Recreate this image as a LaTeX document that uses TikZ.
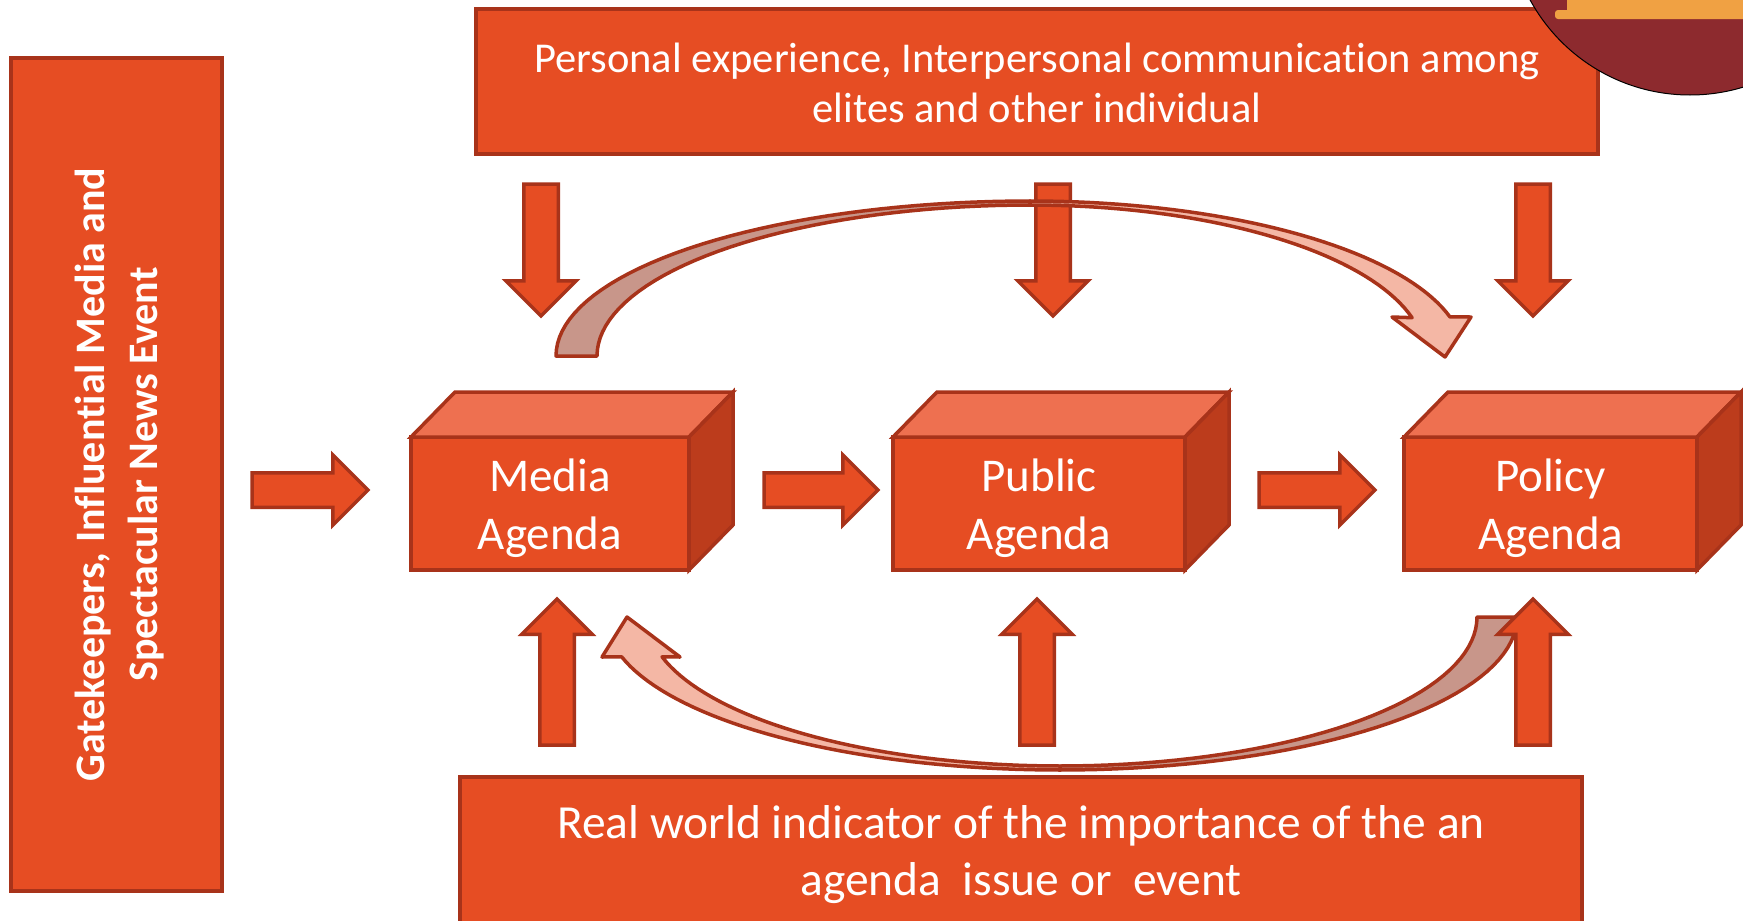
\documentclass[tikz,border=0pt]{standalone}
\usepackage{fontspec}
\setmainfont{Carlito}[Ligatures=NoCommon]
\usetikzlibrary{positioning, shapes.arrows}

\definecolor{boxred}{HTML}{E64D23}
\definecolor{edgered}{HTML}{A8331A}
\definecolor{topred}{HTML}{EE7050}
\definecolor{sidered}{HTML}{BC3C1C}
\definecolor{pinklight}{HTML}{F4B7A5}
\definecolor{pinkdark}{HTML}{C8968A}
\definecolor{circred}{HTML}{8D2A2E}
\definecolor{bandorange}{HTML}{F0A143}

\begin{document}
\begin{tikzpicture}[
    x=1pt, y=-1pt,
    panel/.style={draw=edgered, fill=boxred, line width=3.5pt, outer sep=0pt, text=white, align=center},
    agenda/.style={panel, minimum height=133pt, inner sep=0pt, font=\fontsize{47}{58}\selectfont},
    topface/.style={draw=edgered, fill=topred, line width=3.5pt},
    sideface/.style={draw=edgered, fill=sidered, line width=3.5pt},
    flow/.style={single arrow, draw=edgered, fill=boxred, line width=3.5pt, single arrow head extend=18pt,
                 single arrow tip angle=90, inner xsep=0pt, inner ysep=15.5pt, outer sep=0pt, anchor=tail},
    curvelight/.style={draw=edgered, fill=pinklight, line width=3.5pt, line join=round},
    curvedark/.style={draw=edgered, fill=pinkdark, line width=3.5pt, line join=round}
]
\useasboundingbox (0,0) rectangle (1743,921);

% Side and context panels
\node[panel, rotate=90, minimum width=833pt, minimum height=211pt, font=\bfseries\fontsize{42}{53}\selectfont] (gate) at (116.5,474.5)
    {\rule{0pt}{36pt}Gatekeepers, Influential Media and\\Spectacular News Event};
\node[panel, minimum width=1122pt, minimum height=145pt, font=\fontsize{42.5}{50}\selectfont] (personal) at (1037,81.5)
    {\rule{0pt}{33pt}Personal experience, Interpersonal communication among\\elites and other individual};
\node[panel, minimum width=1122pt, minimum height=149pt, font=\fontsize{47.5}{57}\selectfont] (world) at (1021,851.5)
    {\rule{0pt}{40pt}Real world indicator of the importance of the an\\agenda\ \ issue or\ \ event};

% Agenda boxes
\node[agenda, minimum width=278pt] (media) at (550,503.5) {\rule{0pt}{43pt}Media\\Agenda};
\node[agenda, minimum width=292pt] (public) at (1039,503.5) {\rule{0pt}{43pt}Public\\Agenda};
\node[agenda, minimum width=293pt] (policy) at (1550.5,503.5) {\rule{0pt}{43pt}Policy\\Agenda};

\foreach \b in {media, public, policy} {
    \draw[topface] (\b.north west) -- ++(44,-45) -- ([shift={(44,-45)}]\b.north east) -- (\b.north east) -- cycle;
    \draw[sideface] (\b.north east) -- ++(44,-45) -- ([shift={(44,-45)}]\b.south east) -- (\b.south east) -- cycle;
}

% Horizontal flow
\node[flow, minimum height=116pt] (toMedia) at (252,490) {};
\node[flow, minimum height=114pt] (toPublic) at (764,490) {};
\node[flow, minimum height=116pt] (toPolicy) at (1259,490) {};

% Influence from above
\node[flow, rotate=-90, minimum height=132pt] (downMedia) at (541,184) {};
\node[flow, rotate=-90, minimum height=132pt] (downPublic) at (1053,184) {};
\node[flow, rotate=-90, minimum height=132pt] (downPolicy) at (1533,184) {};

% Curved arrow media -> policy
\draw[curvedark] plot[domain=180:90, samples=40, variable=\t] ({1030+474*cos(\t)},{356-155*sin(\t)})
    -- plot[domain=90:180, samples=40, variable=\t] ({1030+433*cos(\t)},{356-151*sin(\t)}) -- cycle;
\draw[curvelight] plot[domain=90:14.6, samples=40, variable=\t] ({1030+434*cos(\t)},{356-155*sin(\t)})
    -- (1471,317) -- (1445,357) -- (1392,317)
    -- plot[domain=14.7:90, samples=40, variable=\t] ({1030+395*cos(\t)},{356-151*sin(\t)}) -- cycle;

% Curved arrow policy -> media
\draw[curvedark] plot[domain=0:90, samples=40, variable=\t] ({1060+457*cos(\t)},{617+153*sin(\t)})
    -- plot[domain=90:0, samples=40, variable=\t] ({1060+417*cos(\t)},{617+149*sin(\t)}) -- cycle;
\draw[curvelight] plot[domain=90:164.9, samples=40, variable=\t] ({1060+454*cos(\t)},{617+153*sin(\t)})
    -- (602,657) -- (627,617) -- (680,657)
    -- plot[domain=164.5:90, samples=40, variable=\t] ({1060+413*cos(\t)},{617+149*sin(\t)}) -- cycle;

% Influence from below
\node[flow, rotate=90, minimum height=146pt] (upMedia) at (557,745) {};
\node[flow, rotate=90, minimum height=146pt] (upPublic) at (1037,745) {};
\node[flow, rotate=90, minimum height=146pt] (upPolicy) at (1533,745) {};

% Corner emblem
\fill[circred, draw=black, line width=1pt] (1690,-87) circle[radius=182pt];
\begin{scope}
    \clip (1690,-87) circle[radius=181pt];
    \fill[bandorange, rounded corners=3pt] (1555,10) rectangle (1760,19);
    \fill[bandorange] (1567,-5) rectangle (1760,12);
\end{scope}
\end{tikzpicture}
\end{document}
